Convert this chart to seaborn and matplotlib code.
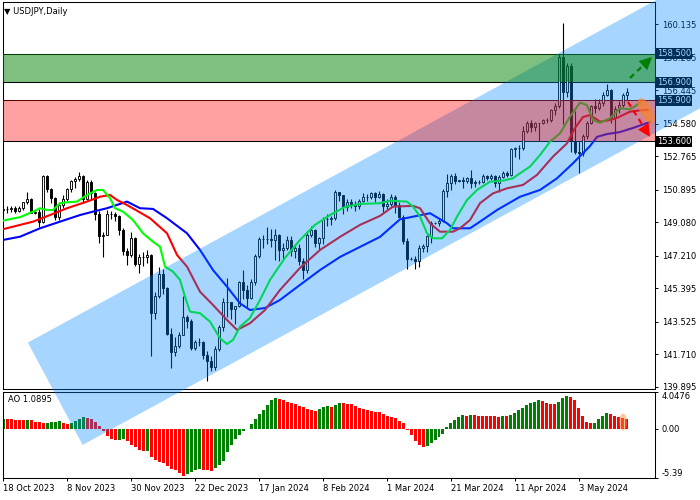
import numpy as np
import seaborn as sns
import matplotlib
matplotlib.use("Agg")
from matplotlib import pyplot as plt
from matplotlib import patches, transforms
from matplotlib.lines import Line2D


## Donnees (index de barre 0..156)

opens = [149.76, 149.82, 149.84, 149.86, 149.69, 149.90, 150.19, 150.40, 149.62, 149.64,
         149.10, 151.67, 150.96, 150.46, 149.39, 150.04, 150.38, 150.96, 151.37, 151.51,
         151.69, 150.37, 151.36, 150.71, 149.57, 148.34, 148.40, 149.55, 149.53, 149.45,
         148.68, 147.48, 147.27, 148.19, 146.77, 147.16, 147.16, 147.28, 144.02, 144.95,
         146.19, 145.42, 142.86, 141.87, 142.17, 142.81, 143.82, 143.60, 142.07, 142.38,
         142.38, 141.66, 141.37, 141.03, 142.01, 143.24, 144.62, 144.62, 144.23, 144.43,
         145.75, 145.30, 144.87, 145.73, 147.19, 148.17, 148.16, 148.14, 148.12, 148.37,
         147.55, 147.65, 148.12, 147.50, 147.63, 146.90, 146.40, 148.38, 148.68, 147.93,
         148.18, 149.28, 149.28, 149.34, 150.78, 150.58, 149.94, 150.22, 150.10, 150.00,
         150.30, 150.50, 150.50, 150.70, 150.50, 150.68, 149.98, 150.11, 150.50, 150.03,
         149.40, 148.05, 147.05, 147.02, 146.95, 147.65, 147.78, 148.32, 149.03, 149.05,
         149.15, 150.85, 151.25, 151.65, 151.40, 151.42, 151.40, 151.55, 151.30, 151.35,
         151.35, 151.65, 151.55, 151.65, 151.30, 151.60, 151.85, 151.75, 153.15, 153.25,
         153.25, 154.20, 154.60, 154.40, 154.60, 154.60, 154.80, 154.80, 155.35, 155.60,
         158.30, 156.35, 157.80, 153.60, 153.00, 152.95, 153.90, 154.65, 155.55, 155.45,
         155.75, 156.20, 156.45, 154.90, 155.40, 155.65, 156.20]
highs = [149.93, 149.99, 150.01, 149.97, 149.98, 150.23, 150.78, 150.42, 149.70, 149.80,
         151.72, 151.72, 151.00, 150.50, 150.22, 150.60, 151.00, 151.43, 151.59, 151.91,
         151.72, 151.43, 151.43, 150.79, 149.74, 148.57, 149.75, 149.70, 149.68, 149.50,
         148.75, 147.65, 148.52, 148.28, 147.30, 147.44, 147.53, 147.30, 145.21, 146.59,
         146.47, 145.49, 143.20, 142.70, 142.96, 144.96, 143.90, 143.70, 142.54, 142.60,
         142.47, 141.90, 141.60, 142.20, 143.33, 144.85, 145.98, 144.63, 144.40, 145.80,
         146.40, 145.58, 145.90, 147.30, 148.29, 148.40, 148.80, 148.70, 148.70, 148.43,
         147.93, 148.30, 148.30, 147.85, 147.90, 147.10, 148.58, 148.90, 148.70, 148.25,
         149.40, 149.55, 149.45, 150.88, 150.80, 150.60, 150.40, 150.40, 150.25, 150.40,
         150.70, 150.65, 150.80, 150.75, 150.85, 150.70, 150.40, 150.65, 150.60, 150.20,
         149.50, 148.20, 147.12, 147.20, 147.80, 147.90, 148.40, 149.15, 149.10, 149.30,
         150.95, 151.80, 151.80, 151.85, 151.45, 151.60, 151.60, 151.98, 151.45, 151.45,
         151.80, 151.75, 151.80, 151.75, 151.75, 151.95, 151.95, 153.25, 153.30, 153.40,
         154.45, 154.75, 154.80, 154.70, 154.65, 154.85, 154.90, 155.40, 155.75, 158.45,
         160.20, 157.95, 158.00, 155.30, 153.60, 154.00, 154.75, 155.65, 155.95, 155.95,
         156.35, 156.80, 156.55, 155.55, 155.85, 156.30, 156.60]
lows = [149.55, 149.62, 149.64, 149.59, 149.66, 149.79, 150.08, 149.60, 149.55, 148.80,
        149.03, 150.80, 150.15, 149.20, 149.20, 149.90, 150.30, 150.78, 151.00, 151.40,
        150.15, 150.33, 150.40, 149.19, 147.93, 147.15, 148.35, 149.25, 149.15, 148.36,
        147.24, 146.68, 147.13, 146.63, 146.25, 146.62, 146.80, 141.64, 143.67, 144.85,
        145.11, 142.82, 140.97, 141.62, 142.06, 142.80, 143.20, 141.95, 141.93, 142.18,
        141.43, 140.25, 140.80, 140.82, 141.90, 143.00, 143.81, 143.68, 143.41, 144.35,
        144.80, 144.35, 144.80, 145.60, 147.10, 147.65, 147.90, 147.70, 146.98, 146.90,
        147.05, 147.55, 147.20, 147.10, 146.70, 145.90, 146.25, 148.25, 147.70, 147.60,
        147.90, 148.90, 148.95, 149.20, 150.30, 149.55, 149.70, 149.90, 149.70, 149.80,
        150.20, 150.30, 150.40, 150.20, 150.45, 149.60, 149.80, 150.00, 149.60, 149.35,
        147.90, 146.50, 146.98, 146.50, 146.60, 147.40, 147.45, 147.95, 148.98, 148.90,
        149.10, 150.50, 150.90, 151.20, 151.35, 151.00, 151.25, 151.00, 151.05, 151.20,
        151.25, 151.45, 151.45, 151.05, 150.80, 151.55, 151.60, 151.65, 152.75, 152.60,
        153.10, 154.05, 154.15, 154.20, 153.60, 154.55, 154.60, 154.70, 155.05, 155.45,
        154.55, 156.05, 153.00, 152.90, 151.86, 152.80, 153.75, 154.55, 155.20, 155.35,
        155.55, 156.15, 154.60, 153.60, 155.20, 155.50, 155.90]
closes = [149.82, 149.84, 149.86, 149.69, 149.90, 150.19, 150.40, 149.62, 149.64, 149.10,
          151.67, 150.96, 150.46, 149.39, 150.04, 150.38, 150.96, 151.37, 151.51, 151.69,
          150.37, 151.36, 150.71, 149.57, 148.34, 148.40, 149.55, 149.53, 149.45, 148.68,
          147.48, 147.27, 148.19, 146.77, 147.16, 147.16, 147.28, 144.02, 144.95, 146.19,
          145.42, 142.86, 141.87, 142.17, 142.81, 143.82, 143.60, 142.07, 142.38, 142.38,
          141.66, 141.37, 141.03, 142.01, 143.24, 144.62, 144.62, 144.23, 144.43, 145.75,
          145.30, 144.87, 145.73, 147.19, 148.17, 148.16, 148.14, 148.12, 148.37, 147.55,
          147.65, 148.12, 147.50, 147.63, 146.90, 146.40, 148.38, 148.68, 147.93, 148.18,
          149.28, 149.28, 149.34, 150.78, 150.58, 149.94, 150.22, 150.10, 150.00, 150.30,
          150.50, 150.50, 150.70, 150.50, 150.68, 149.98, 150.11, 150.50, 150.03, 149.40,
          148.05, 147.05, 147.02, 146.95, 147.65, 147.78, 148.32, 149.03, 149.05, 149.15,
          150.85, 151.25, 151.65, 151.40, 151.42, 151.40, 151.55, 151.30, 151.35, 151.35,
          151.65, 151.55, 151.65, 151.30, 151.60, 151.85, 151.75, 153.15, 153.25, 153.25,
          154.20, 154.60, 154.40, 154.60, 154.60, 154.80, 154.80, 155.35, 155.60, 158.30,
          156.35, 157.80, 153.60, 153.00, 152.95, 153.90, 154.65, 155.55, 155.45, 155.75,
          156.20, 156.45, 154.90, 155.40, 155.65, 156.20, 156.35]

# Alligator (barre, prix)
jaw = [(0, 148.10), (4.25, 148.28), (9.25, 148.75), (14.25, 149.12), (19.25, 149.49),
       (22.5, 149.68), (26, 149.87), (31, 150.24), (34.25, 149.87), (37.5, 149.83),
       (41, 149.31), (46, 148.47), (49.25, 147.54), (52.5, 146.42), (56, 145.49),
       (59.25, 144.56), (61.75, 144.19), (65.5, 144.30), (69.25, 144.75), (74.25, 145.59),
       (79.25, 146.42), (84.25, 147.15), (89.25, 147.71), (94.25, 148.27), (99.25, 149.25),
       (106.75, 149.59), (111, 149.03), (112.5, 148.75), (116.75, 148.75), (119.25, 149.12),
       (123.5, 149.77), (129.25, 150.51), (134.25, 150.89), (138.5, 151.54), (142.5, 152.38),
       (146.75, 153.34), (148.5, 153.85), (151, 154.01), (154.25, 154.12), (157.5, 154.35),
       (161.75, 154.68)]
teeth = [(0, 148.70), (7.5, 149.12), (11.75, 149.49), (16, 149.87), (21, 150.24),
         (24.25, 150.51), (26.75, 150.61), (28.5, 150.33), (31, 150.05), (33.5, 149.73),
         (36.75, 149.31), (41, 148.47), (43.5, 147.26), (46, 146.61), (49.25, 145.21),
         (52.5, 144.47), (56, 143.63), (58.5, 143.08), (61.75, 143.45), (65.5, 144.19),
         (69.25, 145.31), (74.25, 146.54), (79.25, 147.54), (84.25, 148.27), (89.25, 148.94),
         (94.25, 149.44), (97.5, 149.96), (102.5, 150.00), (104.25, 149.87), (106.75, 149.03),
         (109.25, 148.56), (112.5, 148.56), (114.25, 148.75), (116.75, 149.21), (119.25, 150.15),
         (122.5, 150.70), (126, 150.98), (130, 151.17), (133.5, 151.73), (137.5, 152.75),
         (141, 153.49), (143, 154.35), (145, 154.96), (146.75, 155.07), (149.25, 154.70),
         (151.75, 154.79), (153.5, 154.91), (156.75, 155.26), (160, 155.35), (161.25, 155.35)]
lips = [(0, 149.18), (4.25, 149.37), (7.5, 149.68), (9.25, 149.87), (11, 149.77),
        (12.5, 149.77), (14.25, 150.15), (16, 150.20), (18.5, 150.24), (21, 150.61),
        (23.5, 150.89), (25, 150.89), (26.75, 150.43), (28, 149.87), (30, 149.68),
        (32.5, 149.21), (35, 148.47), (37.5, 148.00), (39.25, 147.72), (40.5, 146.61),
        (42.5, 146.33), (44.25, 145.87), (45.5, 144.93), (46.75, 144.10), (49.25, 144.01),
        (51.75, 143.54), (54.25, 142.61), (56, 142.29), (57.5, 142.52), (59.25, 143.26),
        (61.75, 143.75), (64.25, 144.75), (66.75, 145.87), (70.5, 147.10), (74.25, 148.10),
        (78, 148.94), (81.75, 149.49), (85.5, 149.94), (89.25, 150.11), (94.25, 150.15),
        (96.75, 150.29), (101, 150.24), (102.5, 149.96), (104.25, 149.40), (106, 148.47),
        (107.5, 148.19), (109.75, 148.19), (111.75, 148.66), (113.5, 149.40), (116, 150.33),
        (118.5, 150.89), (121.75, 151.35), (125, 151.41), (127.5, 151.54), (129.25, 151.82),
        (131.75, 152.19), (134.25, 152.84), (136.75, 153.58), (139.25, 154.05), (141.75, 154.98),
        (144.25, 155.76), (146, 155.63), (147.5, 154.79), (149.25, 154.64), (151.75, 154.89),
        (154.25, 155.45), (156.75, 155.39), (159.25, 155.74)]

# Awesome Oscillator
ao = [1.12, 1.06, 1.05, 1.04, 1.03, 1.02, 1.04, 0.94, 0.80, 0.73,
      0.68, 0.71, 0.75, 0.79, 0.83, 0.69, 0.55, 0.61, 0.86, 1.10,
      1.27, 1.17, 1.15, 0.80, 0.35, -0.22, -0.79, -1.12, -1.23, -1.19,
      -1.08, -1.30, -1.75, -2.00, -2.37, -2.48, -2.40, -3.11, -3.48, -3.66,
      -3.73, -4.10, -4.47, -4.58, -4.88, -5.21, -5.02, -4.77, -4.51, -4.40,
      -4.52, -4.58, -4.60, -4.33, -4.03, -3.55, -2.56, -1.75, -1.15, -0.63,
      -0.18, 0.05, 0.53, 1.05, 1.60, 2.04, 2.70, 3.15, 3.37, 3.35,
      3.22, 3.03, 2.92, 2.78, 2.59, 2.37, 2.15, 2.04, 2.03, 2.15,
      2.37, 2.59, 2.48, 2.70, 2.92, 2.91, 2.81, 2.80, 2.59, 2.26,
      2.15, 2.04, 1.93, 1.92, 1.82, 1.60, 1.38, 1.27, 1.16, 0.83,
      0.61, -0.10, -0.72, -1.38, -1.82, -2.04, -1.93, -1.60, -1.27, -0.94,
      -0.61, 0.17, 0.61, 0.94, 1.27, 1.49, 1.48, 1.50, 1.49, 1.48,
      1.47, 1.46, 1.45, 1.38, 1.37, 1.39, 1.38, 1.49, 1.71, 2.04,
      2.26, 2.70, 2.92, 3.03, 3.15, 3.14, 2.92, 2.81, 2.80, 3.03,
      3.37, 3.59, 3.48, 3.15, 2.26, 1.38, 0.72, 0.61, 0.62, 1.05,
      1.38, 1.71, 1.70, 1.38, 1.27, 1.16, 1.0895]

date_bars = [0, 16, 32, 48, 64, 80, 96, 112, 128, 144]
date_labels = ["18 Oct 2023", "8 Nov 2023", "30 Nov 2023", "22 Dec 2023", "17 Jan 2024",
               "8 Feb 2024", "1 Mar 2024", "21 Mar 2024", "11 Apr 2024", "3 May 2024"]
price_ticks = [139.895, 141.710, 143.525, 145.395, 147.210, 149.080, 150.895,
               152.765, 154.580, 156.445, 158.265, 160.135]
ao_ticks = [-5.39, 0.0, 4.0476]
ao_tick_labels = ["-5.39", "0.00", "4.0476"]

# niveaux et zones
levels = [158.5, 156.9, 155.9, 153.6]
zone_buy = (156.9, 158.5)
zone_sell = (153.6, 155.9)

# canal haussier
chan_top_left = (6.2, 142.37)
chan_bottom_left = (19.9, 136.66)
chan_slope = 0.1217

arrow_up = [(156.75, 157.14), (162.25, 158.31)]
arrow_down = [(156.25, 155.80), (161.75, 153.85)]


##Figure

sns.set_theme(style="white")
plt.rcParams['font.family'] = ['DejaVu Sans']
plt.rcParams['text.color'] = 'black'

fig = plt.figure(figsize=(7, 5), dpi=100)
ax = fig.add_axes([0.0036, 0.222, 0.9321, 0.7734])
ax2 = fig.add_axes([0.0036, 0.0444, 0.9321, 0.1710])

bars = np.arange(len(closes))
o = np.array(opens)
c = np.array(closes)
up = c >= o

# bougies
ax.vlines(bars, lows, highs, colors='black', linewidth=0.8, zorder=2)
ax.bar(bars, np.abs(c - o), bottom=np.minimum(o, c), width=0.72,
       color=['white' if u else 'black' for u in up], edgecolor='black',
       linewidth=0.65, zorder=3)

# alligator
for pts, col in [(jaw, '#0000ff'), (teeth, '#ff0000'), (lips, '#00ff00')]:
    xs, ys = zip(*pts)
    sns.lineplot(x=list(xs), y=list(ys), ax=ax, color=col, linewidth=1.5,
                 estimator=None, sort=False, zorder=4)

ax.hlines(levels, -1, 170, colors='black', linewidth=0.75, zorder=2.5)

ax.set_xlim(-0.125, 163.0)
ax.set_ylim(139.78, 161.363)
ax.set_xticks([])
ax.set_yticks(price_ticks)
ax.set_yticklabels(["%.3f" % t for t in price_ticks])
ax.yaxis.tick_right()
ax.tick_params(axis='y', right=True, left=False, length=2.5, width=0.7, pad=2.5,
               labelsize=6, colors='black', direction='out')
ax.set_xlabel('')
ax.set_ylabel('')

lbl_tr = transforms.blended_transform_factory(ax.transAxes, ax.transData)
for lv in levels:
    ax.text(1.003, lv, "%.3f" % lv, transform=lbl_tr, ha='left', va='center',
            fontsize=6, color='white', clip_on=False, zorder=6,
            bbox=dict(boxstyle='square,pad=0.12', fc='black', ec='none'))

ax.text(0.0025, 0.977, "\u25bc USDJPY,Daily", transform=ax.transAxes,
        fontsize=6, ha='left', va='center')

# AO
ao_vals = np.array(ao)
ao_cols = ['#008000'] + ['#008000' if ao_vals[k] > ao_vals[k - 1] else '#ff0000'
                         for k in range(1, len(ao_vals))]
ax2.bar(bars, ao_vals, width=0.75, color=ao_cols, linewidth=0)
ax2.set_xlim(-0.125, 163.0)
ax2.set_ylim(-5.39, 4.0476)
ax2.set_yticks(ao_ticks)
ax2.set_yticklabels(ao_tick_labels)
ax2.yaxis.tick_right()
ax2.tick_params(axis='y', right=True, left=False, length=2.5, width=0.7, pad=2.5,
                labelsize=6, colors='black', direction='out')
ax2.set_xticks(date_bars)
ax2.set_xticklabels(date_labels, ha='left')
ax2.tick_params(axis='x', bottom=True, length=2.5, width=0.7, pad=2,
                labelsize=6, colors='black', direction='out')
ax2.text(0.009, 0.91, "AO 1.0895", transform=ax2.transAxes, fontsize=6,
         ha='left', va='center')
tks = ax2.yaxis.get_major_ticks()
tks[0].label2.set_va('bottom')
tks[2].label2.set_va('top')

for a in (ax, ax2):
    for s in a.spines.values():
        s.set_color('black')
        s.set_linewidth(0.75)

# canal (par dessus tout, jusque dans la fenetre AO)
x_far = 200
tl, bl = chan_top_left, chan_bottom_left
chan_poly = [tl, (x_far, tl[1] + chan_slope * (x_far - tl[0])),
             (x_far, bl[1] + chan_slope * (x_far - bl[0])), bl]
chan = patches.Polygon(chan_poly, closed=True, transform=ax.transData,
                       facecolor=(0.0, 0.54, 1.0), alpha=0.35, linewidth=0, zorder=5)
fig.add_artist(chan)

# zones
for (lo, hi), fc, al in [(zone_buy, (0.0, 0.5, 0.0), 0.5), (zone_sell, (1.0, 0.0, 0.0), 0.37)]:
    r = patches.Rectangle((-1, lo), 200, hi - lo, transform=ax.transData,
                          facecolor=fc, alpha=al, linewidth=0, zorder=6)
    r.set_clip_box(ax.bbox)
    fig.add_artist(r)

# fleches
for pts, col in [(arrow_up, '#008000'), (arrow_down, '#ff0000')]:
    (x0, y0), (x1, y1) = pts
    fig.add_artist(Line2D([x0, x0 + 0.7 * (x1 - x0)], [y0, y0 + 0.7 * (y1 - y0)],
                          transform=ax.transData, color=col, linewidth=1.6,
                          linestyle=(0, (2.5, 2)), zorder=7))
    head = patches.FancyArrowPatch(posA=(x0 + 0.5 * (x1 - x0), y0 + 0.5 * (y1 - y0)),
                                   posB=(x1, y1), transform=ax.transData,
                                   arrowstyle='-|>,head_length=0.9,head_width=0.45',
                                   mutation_scale=10, color=col, linewidth=0,
                                   shrinkA=0, shrinkB=0, zorder=7)
    fig.add_artist(head)


def blob(axx, x, y, w, h, ang, col, al):
    tr = fig.dpi_scale_trans + transforms.ScaledTranslation(x, y, axx.transData)
    e = patches.Ellipse((0, 0), w / 100, h / 100, angle=ang, transform=tr,
                        facecolor=col, alpha=al, linewidth=0, zorder=8)
    fig.add_artist(e)


blob(ax, 160.8, 155.3, 28, 12, -62, (1.0, 0.5, 0.15), 0.7)
blob(ax2, 155, 0.75, 8, 17, 0, (1.0, 0.55, 0.25), 0.5)

plt.savefig("out.png", dpi=100)
